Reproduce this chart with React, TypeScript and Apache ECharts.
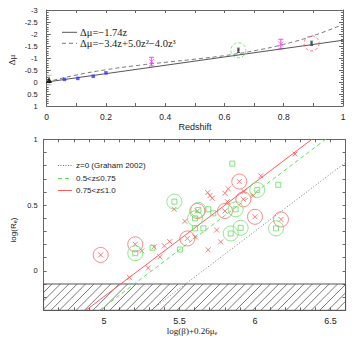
import React, { useEffect, useRef } from 'react';
import * as echarts from 'echarts';

// ---------- Top panel data ----------
const zGrid = [0, 0.1, 0.2, 0.3, 0.4, 0.5, 0.6, 0.7, 0.8, 0.9, 1.0];
const cubicFitMu = [0, -0.29, -0.51, -0.68, -0.82, -0.95, -1.1, -1.3, -1.57, -1.93, -2.4];
const linearFitZ = [0, 1];
const linearFitMu = [0, -1.74];

const localZ = [0.008];
const localMu = [-0.08];
const localErr = [0.2];

const blueZ = [0.06, 0.105, 0.157, 0.2];
const blueMu = [-0.11, -0.15, -0.24, -0.38];

const magentaZ = [0.354, 0.79];
const magentaMu = [-0.85, -1.58];
const magentaErr = [0.18, 0.2];

const sampleZ = [0.647, 0.894];
const sampleMu = [-1.32, -1.61];
const sampleErr = [0.09, 0.09];

// ---------- Bottom panel data ----------
const redCrossX = [6.265, 6.038, 5.823, 5.801, 5.687, 5.702, 5.717, 5.927, 5.989, 5.817, 5.464, 5.536, 5.746, 5.603, 5.773, 5.69, 5.25, 5.331, 5.4, 5.435, 5.37, 5.293, 5.168];
const redCrossY = [0.888, 0.722, 0.623, 0.59, 0.595, 0.572, 0.552, 0.602, 0.572, 0.526, 0.468, 0.376, 0.31, 0.259, 0.22, 0.16, 0.152, 0.182, 0.19, 0.222, 0.106, 0.022, -0.05];

const redCircledX = [5.896, 5.923, 5.618, 5.801, 6.0, 6.172, 5.552, 5.207, 4.978];
const redCircledY = [0.679, 0.544, 0.455, 0.455, 0.411, 0.391, 0.246, 0.202, 0.121];

const greenSquareX = [5.85, 6.154, 5.691, 5.724, 5.603, 5.658, 5.503, 5.322];
const greenSquareY = [0.815, 0.654, 0.468, 0.437, 0.323, 0.323, 0.162, 0.175];

const greenCircledX = [6.015, 5.466, 5.625, 5.872, 5.603, 5.905, 5.839, 6.139, 5.207];
const greenCircledY = [0.615, 0.526, 0.463, 0.468, 0.399, 0.327, 0.284, 0.323, 0.134];

const redFitX = [4.88, 6.377];
const redFitY = [-0.3, 1.0];
const greenFitX = [4.97, 6.468];
const greenFitY = [-0.3, 1.0];
const grahamFitX = [5.31, 6.6];
const grahamFitY = [-0.3, 0.824];

const hatchBand = [[4.6, -0.3, 6.6, -0.1]];

const xTopLabels = ['0', '0.2', '0.4', '0.6', '0.8', '1'];
const xBottomLabels = ['5', '5.5', '6', '6.5'];
const yBottomLabels = ['0', '0.5', '1'];

const RED = '#ff5a5a';
const GREEN = '#5fdf5f';
const MAGENTA = '#ff44ff';
const AX = '#666';
const SANS = 'Liberation Sans, Arial, sans-serif';
const SERIF = 'Liberation Serif, Times New Roman, serif';

const zip = (a: number[], b: number[]) => a.map((v, i) => [v, b[i]]);

function errorBarSeries(xs: number[], ys: number[], es: number[], color: string, cap: number) {
  return {
    type: 'custom',
    xAxisIndex: 0,
    yAxisIndex: 0,
    data: xs.map((x, i) => [x, ys[i], es[i]]),
    z: 3,
    silent: true,
    renderItem: (params: any, api: any) => {
      const x = api.value(0), y = api.value(1), e = api.value(2);
      const a = api.coord([x, y - e]);
      const b = api.coord([x, y + e]);
      const st = { stroke: color, lineWidth: 1 };
      return {
        type: 'group',
        children: [
          { type: 'line', shape: { x1: a[0], y1: a[1], x2: b[0], y2: b[1] }, style: st },
          { type: 'line', shape: { x1: a[0] - cap, y1: a[1], x2: a[0] + cap, y2: a[1] }, style: st },
          { type: 'line', shape: { x1: b[0] - cap, y1: b[1], x2: b[0] + cap, y2: b[1] }, style: st },
        ],
      };
    },
  };
}

const CROSS = 'path://M0,0L10,10M10,0L0,10';

export default function App() {
  const ref = useRef<HTMLDivElement>(null);
  useEffect(() => {
    if (!ref.current) return;
    const chart = echarts.init(ref.current, null, { renderer: 'svg' });
    const tickStyle = { lineStyle: { color: AX, width: 1 } };
    const axisLine = { show: true, onZero: false, lineStyle: { color: AX, width: 1 } };
    const labelStyle = { color: '#222', fontFamily: SANS };

    const option: any = {
      animation: false,
      backgroundColor: '#fff',
      grid: [
        { left: 46.7, top: 10, width: 296.3, height: 96 },
        { left: 43.6, top: 139.3, width: 302, height: 171 },
      ],
      xAxis: [
        {
          gridIndex: 0, type: 'value', min: 0, max: 1, interval: 0.1,
          axisLine, splitLine: { show: false },
          axisTick: { inside: true, length: 3, ...tickStyle },
          axisLabel: {
            ...labelStyle, fontSize: 8.5, margin: 6,
            formatter: (v: number) => {
              const r = Math.round(v * 10) / 10;
              const s = String(r);
              return xTopLabels.includes(s) ? s : '';
            },
          },
        },
        {
          gridIndex: 0, type: 'value', position: 'top', min: 0, max: 1, interval: 0.1,
          axisLine, splitLine: { show: false },
          axisTick: { inside: true, length: 3, ...tickStyle },
          axisLabel: { show: false },
        },
        {
          gridIndex: 1, type: 'value', min: 4.6, max: 6.6, interval: 0.1,
          axisLine, splitLine: { show: false },
          axisTick: { inside: true, length: 3, ...tickStyle },
          axisLabel: {
            ...labelStyle, fontSize: 9, margin: 6,
            formatter: (v: number) => {
              const r = Math.round(v * 10) / 10;
              const s = String(r);
              return xBottomLabels.includes(s) ? s : '';
            },
          },
        },
        {
          gridIndex: 1, type: 'value', position: 'top', min: 4.6, max: 6.6, interval: 0.1,
          axisLine, splitLine: { show: false },
          axisTick: { inside: true, length: 3, ...tickStyle },
          axisLabel: { show: false },
        },
      ],
      yAxis: [
        {
          gridIndex: 0, type: 'value', inverse: true, min: -3, max: 1, interval: 0.5,
          axisLine, splitLine: { show: false },
          axisTick: { inside: true, length: 4, ...tickStyle },
          minorTick: { show: true, splitNumber: 5, length: 2, lineStyle: { color: AX } },
          minorSplitLine: { show: false },
          axisLabel: { ...labelStyle, fontSize: 7.5, margin: 9 },
        },
        {
          gridIndex: 0, type: 'value', position: 'right', inverse: true, min: -3, max: 1, interval: 0.5,
          axisLine, splitLine: { show: false },
          axisTick: { inside: true, length: 4, ...tickStyle },
          minorTick: { show: true, splitNumber: 5, length: 2, lineStyle: { color: AX } },
          axisLabel: { show: false },
        },
        {
          gridIndex: 1, type: 'value', min: -0.3, max: 1, interval: 0.1,
          axisLine, splitLine: { show: false },
          axisTick: { inside: true, length: 3, ...tickStyle },
          axisLabel: {
            ...labelStyle, fontSize: 7.5, margin: 6,
            formatter: (v: number) => {
              const r = Math.round(v * 10) / 10;
              const s = String(r === 0 ? 0 : r);
              return yBottomLabels.includes(s) ? s : '';
            },
          },
        },
        {
          gridIndex: 1, type: 'value', position: 'right', min: -0.3, max: 1, interval: 0.1,
          axisLine, splitLine: { show: false },
          axisTick: { inside: true, length: 3, ...tickStyle },
          axisLabel: { show: false },
        },
      ],
      series: [
        // ----- top panel -----
        {
          type: 'line', xAxisIndex: 0, yAxisIndex: 0, showSymbol: false, silent: true,
          data: zip(linearFitZ, linearFitMu),
          lineStyle: { color: '#555', width: 1 },
        },
        {
          type: 'line', xAxisIndex: 0, yAxisIndex: 0, showSymbol: false, silent: true, smooth: true,
          data: zip(zGrid, cubicFitMu),
          lineStyle: { color: '#777', width: 1, type: [4, 3] },
        },
        errorBarSeries(localZ, localMu, localErr, '#bbb', 2.5),
        errorBarSeries(magentaZ, magentaMu, magentaErr, MAGENTA, 2.5),
        errorBarSeries(sampleZ, sampleMu, sampleErr, '#555', 1.5),
        {
          type: 'scatter', xAxisIndex: 0, yAxisIndex: 0, symbol: 'triangle', symbolSize: 6,
          data: zip(localZ, localMu), itemStyle: { color: '#000' }, z: 4,
        },
        {
          type: 'scatter', xAxisIndex: 0, yAxisIndex: 0, symbol: 'rect', symbolSize: 3.5,
          data: zip(blueZ, blueMu), itemStyle: { color: '#3333ff' }, z: 4,
        },
        {
          type: 'scatter', xAxisIndex: 0, yAxisIndex: 0, symbol: CROSS, symbolSize: 5,
          data: zip(magentaZ, magentaMu),
          itemStyle: { color: 'transparent', borderColor: MAGENTA, borderWidth: 1 }, z: 4,
        },
        {
          type: 'scatter', xAxisIndex: 0, yAxisIndex: 0, symbol: 'rect', symbolSize: 2.5,
          data: zip(sampleZ, sampleMu), itemStyle: { color: '#444' }, z: 4,
        },
        {
          type: 'scatter', xAxisIndex: 0, yAxisIndex: 0, symbol: 'circle', symbolSize: 15,
          data: [[sampleZ[0], sampleMu[0]]],
          itemStyle: { color: 'transparent', borderColor: GREEN, borderWidth: 1, borderType: [3, 2] }, z: 4,
        },
        {
          type: 'scatter', xAxisIndex: 0, yAxisIndex: 0, symbol: 'circle', symbolSize: 15,
          data: [[sampleZ[1], sampleMu[1]]],
          itemStyle: { color: 'transparent', borderColor: RED, borderWidth: 1, borderType: [3, 2] }, z: 4,
        },
        // ----- bottom panel -----
        {
          type: 'custom', xAxisIndex: 2, yAxisIndex: 2, data: hatchBand, silent: true, z: 1,
          renderItem: (params: any, api: any) => {
            const tl = api.coord([api.value(0), api.value(3)]);
            const br = api.coord([api.value(2), api.value(1)]);
            const left = tl[0], top = tl[1], right = br[0], bottom = br[1];
            const h = bottom - top;
            const children: any[] = [
              { type: 'rect', shape: { x: left, y: top, width: right - left, height: h },
                style: { fill: 'none', stroke: '#555', lineWidth: 1 } },
            ];
            for (let k = left - h; k < right; k += 8.4) {
              let x1 = k, y1 = bottom, x2 = k + h, y2 = top;
              if (x1 < left) { y1 = bottom - (left - x1); x1 = left; }
              if (x2 > right) { y2 = top + (x2 - right); x2 = right; }
              if (x2 <= x1) continue;
              children.push({ type: 'line', shape: { x1, y1, x2, y2 }, style: { stroke: '#555', lineWidth: 0.8 } });
            }
            return { type: 'group', children };
          },
        },
        {
          type: 'line', xAxisIndex: 2, yAxisIndex: 2, showSymbol: false, silent: true,
          data: zip(grahamFitX, grahamFitY),
          lineStyle: { color: '#777', width: 1, type: [1, 2] }, z: 2,
        },
        {
          type: 'line', xAxisIndex: 2, yAxisIndex: 2, showSymbol: false, silent: true,
          data: zip(greenFitX, greenFitY),
          lineStyle: { color: GREEN, width: 1, type: [4, 3] }, z: 2,
        },
        {
          type: 'line', xAxisIndex: 2, yAxisIndex: 2, showSymbol: false, silent: true,
          data: zip(redFitX, redFitY),
          lineStyle: { color: RED, width: 1 }, z: 2,
        },
        {
          type: 'scatter', xAxisIndex: 2, yAxisIndex: 2, symbol: CROSS, symbolSize: 5,
          data: zip(redCrossX, redCrossY).concat(zip(redCircledX, redCircledY)),
          itemStyle: { color: 'transparent', borderColor: RED, borderWidth: 1 }, z: 3,
        },
        {
          type: 'scatter', xAxisIndex: 2, yAxisIndex: 2, symbol: 'circle', symbolSize: 15,
          data: zip(redCircledX, redCircledY),
          itemStyle: { color: 'transparent', borderColor: RED, borderWidth: 0.9 }, z: 3,
        },
        {
          type: 'scatter', xAxisIndex: 2, yAxisIndex: 2, symbol: 'rect', symbolSize: 5,
          data: zip(greenSquareX, greenSquareY).concat(zip(greenCircledX, greenCircledY)),
          itemStyle: { color: 'transparent', borderColor: GREEN, borderWidth: 1 }, z: 3,
        },
        {
          type: 'scatter', xAxisIndex: 2, yAxisIndex: 2, symbol: 'circle', symbolSize: 15,
          data: zip(greenCircledX, greenCircledY),
          itemStyle: { color: 'transparent', borderColor: GREEN, borderWidth: 0.9 }, z: 3,
        },
      ],
      graphic: [
        // top legend
        { type: 'line', shape: { x1: 62, y1: 32.3, x2: 77, y2: 32.3 }, style: { stroke: '#555', lineWidth: 1 } },
        { type: 'text', x: 80, y: 32.3, style: { text: 'Δμ=−1.74z', font: `10.5px ${SERIF}`, fill: '#222', verticalAlign: 'middle' } },
        { type: 'line', shape: { x1: 62, y1: 43.3, x2: 77, y2: 43.3 }, style: { stroke: '#777', lineWidth: 1, lineDash: [4, 3] } },
        { type: 'text', x: 80, y: 43.3, style: { text: 'Δμ=−3.4z+5.0z²−4.0z³', font: `10.5px ${SERIF}`, fill: '#222', verticalAlign: 'middle' } },
        // top axis names
        { type: 'text', x: 195, y: 127.3, style: { text: 'Redshift', font: `9px ${SANS}`, fill: '#222', align: 'center', verticalAlign: 'middle' } },
        { type: 'text', x: 12, y: 60, rotation: Math.PI / 2, style: { text: 'Δμ', font: `9px ${SERIF}`, fill: '#222', align: 'center', verticalAlign: 'middle' } },
        // bottom legend
        { type: 'line', shape: { x1: 58, y1: 165.5, x2: 72, y2: 165.5 }, style: { stroke: '#777', lineWidth: 1, lineDash: [1, 1.5] } },
        { type: 'text', x: 76, y: 165.5, style: { text: 'z=0 (Graham 2002)', font: `8px ${SANS}`, fill: '#222', verticalAlign: 'middle' } },
        { type: 'line', shape: { x1: 58, y1: 178.5, x2: 72, y2: 178.5 }, style: { stroke: GREEN, lineWidth: 1, lineDash: [4, 3] } },
        { type: 'text', x: 76, y: 178.5, style: { text: '0.5<z≤0.75', font: `8px ${SANS}`, fill: '#222', verticalAlign: 'middle' } },
        { type: 'line', shape: { x1: 58, y1: 190.5, x2: 72, y2: 190.5 }, style: { stroke: RED, lineWidth: 1 } },
        { type: 'text', x: 76, y: 190.5, style: { text: '0.75<z≤1.0', font: `8px ${SANS}`, fill: '#222', verticalAlign: 'middle' } },
        // bottom axis names
        {
          type: 'text', x: 192, y: 331,
          style: {
            text: '{a|log(β)+0.26μ}{s|e}', align: 'center', verticalAlign: 'middle',
            rich: {
              a: { fontSize: 9, fontFamily: SERIF, fill: '#222', color: '#222' },
              s: { fontSize: 6, fontFamily: SERIF, fill: '#222', color: '#222', verticalAlign: 'bottom', padding: [4, 0, 0, 0] },
            },
          },
        },
        {
          type: 'text', x: 13, y: 230, rotation: Math.PI / 2,
          style: {
            text: '{a|log(R}{s|e}{a|)}', align: 'center', verticalAlign: 'middle',
            rich: {
              a: { fontSize: 8, fontFamily: SANS, fill: '#222', color: '#222' },
              s: { fontSize: 5.5, fontFamily: SANS, fill: '#222', color: '#222', verticalAlign: 'bottom', padding: [4, 0, 0, 0] },
            },
          },
        },
      ],
    };
    chart.setOption(option);
    return () => chart.dispose();
  }, []);
  return <div ref={ref} style={{ width: 354, height: 354, position: 'absolute', left: 0, top: 0 }} />;
}
